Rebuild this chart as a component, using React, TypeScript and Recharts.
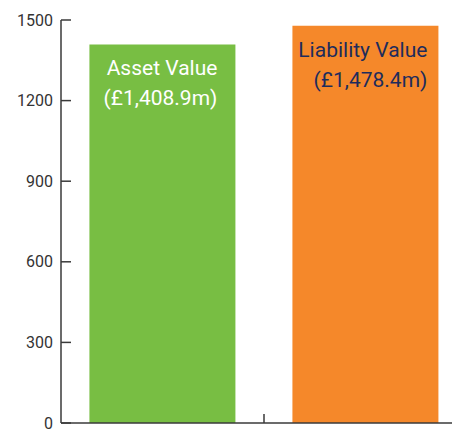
import React from 'react';
import { BarChart, Bar, XAxis, YAxis, Cell, LabelList } from 'recharts';

const categories = ['Asset Value', 'Liability Value'];
const values = [1408.9, 1478.4];
const yTicks = [0, 300, 600, 900, 1200, 1500];

const barColors = ['#78BE43', '#F5882A'];
const labelColors = ['#FFFFFF', '#1E2C5C'];
const labelInset = [18, 11];

const CHART_W = 470;
const CHART_H = 440;
const Y_AXIS_W = 61;
const MARGIN = { top: 20, right: 3, left: 0, bottom: 0 };
const BAND = (CHART_W - MARGIN.left - MARGIN.right - Y_AXIS_W) / categories.length;

const data = categories.map((name, i) => ({ name, value: values[i] }));

const fmt = (v: number) =>
  `(£${v.toLocaleString('en-GB', { minimumFractionDigits: 1, maximumFractionDigits: 1 })}m)`;

const BarLabel = (props: any) => {
  const { x, y, width, index, value } = props;
  const right = x + width - labelInset[index];
  const fill = labelColors[index];
  return (
    <g>
      <text x={right} y={y + 31} textAnchor="end" fill={fill} fontSize={21} fontFamily="Roboto">
        {categories[index]}
      </text>
      <text x={right} y={y + 61} textAnchor="end" fill={fill} fontSize={21} fontFamily="Roboto">
        {fmt(value)}
      </text>
    </g>
  );
};

// tick marks sit on the boundary between the two bars, pointing up
const XTick = (props: any) => {
  const { x, y, index } = props;
  if (index !== 0) return null;
  return <line x1={x + BAND / 2} x2={x + BAND / 2} y1={y} y2={y - 9} stroke="#3a3a3a" strokeWidth={1.5} />;
};

export default function App() {
  return (
    <div style={{ position: 'absolute', left: 0, top: 0, width: 452, height: 429, overflow: 'hidden', background: '#fff' }}>
      <BarChart width={CHART_W} height={CHART_H} data={data} margin={MARGIN} barCategoryGap="14%">
        <XAxis
          dataKey="name"
          axisLine={{ stroke: '#3a3a3a', strokeWidth: 1.5 }}
          tickLine={false}
          tickSize={0}
          tickMargin={0}
          height={17}
          tick={<XTick />}
        />
        <YAxis
          domain={[0, 1500]}
          ticks={yTicks}
          width={Y_AXIS_W}
          axisLine={{ stroke: '#3a3a3a', strokeWidth: 1.5 }}
          tickLine={{ stroke: '#3a3a3a', strokeWidth: 1.5 }}
          tickSize={-10}
          tickMargin={18}
          tick={{ fill: '#333', fontSize: 16, fontFamily: 'Roboto' }}
        />
        <Bar dataKey="value" isAnimationActive={false}>
          {data.map((d, i) => (
            <Cell key={d.name} fill={barColors[i]} />
          ))}
          <LabelList dataKey="value" content={<BarLabel />} />
        </Bar>
      </BarChart>
    </div>
  );
}
